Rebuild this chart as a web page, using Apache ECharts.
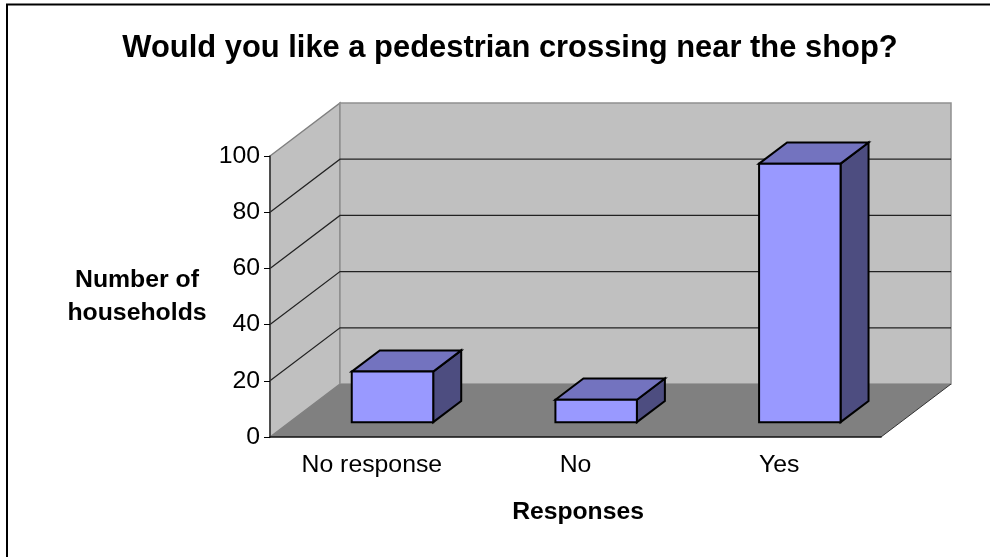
<!DOCTYPE html>
<html>
<head>
<meta charset="utf-8">
<title>Pedestrian crossing survey</title>
<script src="https://cdn.jsdelivr.net/npm/echarts@6/dist/echarts.min.js"></script>
<style>
html, body { margin: 0; padding: 0; background: #fff; }
#chart { width: 990px; height: 557px; }
</style>
</head>
<body>
<div id="chart"></div>
<script>
var titleText = 'Would you like a pedestrian crossing near the shop?';
var categories = ['No response', 'No', 'Yes'];
var households = [18, 8, 92];
var gridTicks = [20, 40, 60, 80];

// 3D look: how far the back wall sits from the front plane, in pixels
var depthX = 70;
var depthY = -53;
var barWidthRatio = 0.4;
var barStartX = 0.295;
var barStartY = 0.28;
var barDepthSize = 0.4;

var fontName = '"Liberation Sans", Arial, sans-serif';

function wallsItem(params, api) {
    var o = api.coord([0, 0]);
    var band = api.size([1, 0])[0];
    o = [o[0] - band / 2, o[1]];
    var w = band * categories.length;
    var h = o[1] - api.coord([0, 100])[1];
    return {
        type: 'group',
        children: [
            { type: 'polygon', shape: { points: [[o[0], o[1]], [o[0] + depthX, o[1] + depthY], [o[0] + depthX, o[1] + depthY - h], [o[0], o[1] - h]] },
              style: { fill: '#c0c0c0', stroke: '#808080', lineWidth: 1.5 } },
            { type: 'polygon', shape: { points: [[o[0] + depthX, o[1] + depthY], [o[0] + depthX + w, o[1] + depthY], [o[0] + depthX + w, o[1] + depthY - h], [o[0] + depthX, o[1] + depthY - h]] },
              style: { fill: '#c0c0c0', stroke: '#909090', lineWidth: 1.5 } },
            { type: 'polygon', shape: { points: [[o[0], o[1]], [o[0] + w, o[1]], [o[0] + w + depthX, o[1] + depthY], [o[0] + depthX, o[1] + depthY]] },
              style: { fill: '#808080' } },
            { type: 'line', shape: { x1: o[0] + w, y1: o[1], x2: o[0] + w + depthX, y2: o[1] + depthY },
              style: { stroke: '#333', lineWidth: 1 } }
        ]
    };
}

function gridItem(params, api) {
    var p = api.coord([0, api.value(0)]);
    var band = api.size([1, 0])[0];
    var x0 = p[0] - band / 2;
    var w = band * categories.length;
    return {
        type: 'polyline',
        shape: { points: [[x0, p[1]], [x0 + depthX, p[1] + depthY], [x0 + depthX + w, p[1] + depthY]] },
        style: { fill: null, stroke: '#222', lineWidth: 1.2 }
    };
}

function barItem(params, api) {
    var top = api.coord([api.value(0), api.value(1)]);
    var base = api.coord([api.value(0), 0]);
    var band = api.size([1, 0])[0];
    var bw = band * barWidthRatio;
    var sx = depthX * barStartX, sy = depthY * barStartY;
    var dx = depthX * barDepthSize, dy = depthY * barDepthSize;
    var l = top[0] - bw / 2 + sx, r = l + bw;
    var t = top[1] + sy, b = base[1] + sy;
    var edge = { stroke: '#000', lineWidth: 2, lineJoin: 'miter' };
    return {
        type: 'group',
        children: [
            { type: 'polygon', shape: { points: [[r, t], [r + dx, t + dy], [r + dx, b + dy], [r, b]] },
              style: Object.assign({ fill: '#4d4d80' }, edge) },
            { type: 'polygon', shape: { points: [[l, t], [l + dx, t + dy], [r + dx, t + dy], [r, t]] },
              style: Object.assign({ fill: '#7373bf' }, edge) },
            { type: 'rect', shape: { x: l, y: t, width: bw, height: b - t },
              style: Object.assign({ fill: '#9999ff' }, edge) }
        ]
    };
}

var dom = document.getElementById('chart');
var chart = echarts.init(dom);

var option = {
    backgroundColor: '#fff',
    animation: false,
    title: {
        text: titleText,
        left: 505,
        top: 28,
        textAlign: 'center',
        textStyle: { fontFamily: fontName, fontSize: 30.9, fontWeight: 'bold', color: '#000' }
    },
    // the frame only shows on its top and left sides, the rest is cropped off
    graphic: [{
        type: 'polyline',
        z: -10,
        shape: { points: [[7, 557], [7, 4.5], [990, 4.5]] },
        style: { fill: null, stroke: '#000', lineWidth: 2 }
    }],
    grid: { left: 270, right: 109, top: 156, bottom: 120 },
    xAxis: {
        type: 'category',
        data: categories,
        z: 5,
        name: 'Responses',
        nameLocation: 'middle',
        nameGap: 63,
        nameTextStyle: { fontFamily: fontName, fontSize: 24.7, fontWeight: 'bold', color: '#000', padding: [0, 0, 0, 5] },
        axisLine: { lineStyle: { color: '#111', width: 1.5 } },
        axisTick: { length: 6, lineStyle: { color: '#000' } },
        axisLabel: { fontFamily: fontName, fontSize: 24.8, color: '#000', margin: 16 }
    },
    yAxis: {
        type: 'value',
        min: 0,
        max: 100,
        interval: 20,
        z: 5,
        name: 'Number of\nhouseholds',
        nameLocation: 'middle',
        nameRotate: 0,
        nameGap: 133,
        nameTextStyle: { fontFamily: fontName, fontSize: 24.8, fontWeight: 'bold', color: '#000', lineHeight: 33, align: 'center' },
        axisLine: { show: true, lineStyle: { color: '#333', width: 1.5 } },
        axisTick: { show: true, length: 6, lineStyle: { color: '#000' } },
        axisLabel: { fontFamily: fontName, fontSize: 24.8, color: '#000', margin: 10 },
        splitLine: { show: false }
    },
    series: [
        { type: 'custom', name: 'walls', renderItem: wallsItem, clip: false, silent: true, z: 1, data: [[0]] },
        { type: 'custom', name: 'gridlines', renderItem: gridItem, clip: false, silent: true, z: 2, encode: { y: 0 },
          data: gridTicks.map(function (v) { return [v]; }) },
        { type: 'custom', name: 'Households', renderItem: barItem, clip: false, z: 3, encode: { x: 0, y: 1 },
          data: categories.map(function (c, i) { return [i, households[i]]; }) }
    ]
};

chart.setOption(option);
window.addEventListener('resize', function () {
    chart.resize();
});
</script>
</body>
</html>
